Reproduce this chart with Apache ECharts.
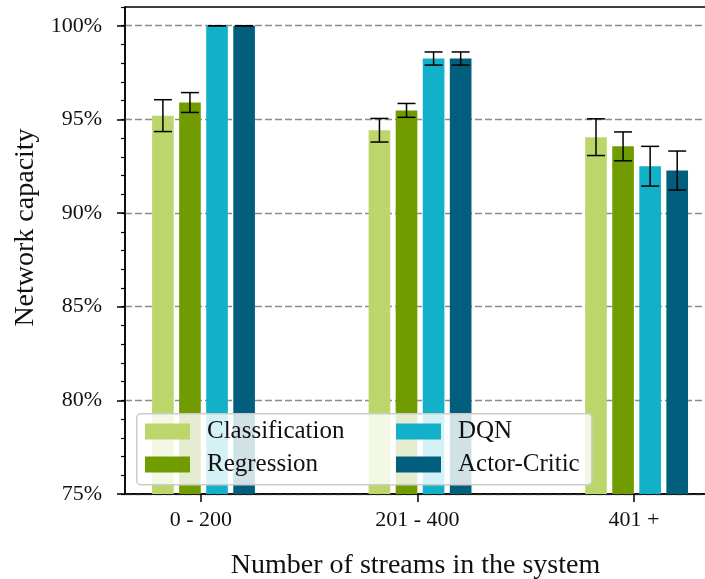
<!DOCTYPE html>
<html>
<head>
<meta charset="utf-8">
<script src="https://cdn.jsdelivr.net/npm/echarts@6/dist/echarts.min.js"></script>
<style>
  html, body { margin: 0; padding: 0; background: #fff; }
  #chart { width: 705px; height: 579px; }
</style>
</head>
<body>
<div id="chart"></div>
<script>
// Stream-count buckets on the x axis
const categories = ['0 - 200', '201 - 400', '401 +'];
const categoryPositions = [0, 1, 2];

// Mean network capacity (%) and error half-widths per method
const classification = [95.2, 94.42, 94.05];
const classificationErr = [0.85, 0.63, 0.98];
const regression = [95.9, 95.48, 93.56];
const regressionErr = [0.53, 0.37, 0.77];
const dqn = [100, 98.25, 92.5];
const dqnErr = [0, 0.35, 1.06];
const actorCritic = [100, 98.25, 92.27];
const actorCriticErr = [0, 0.35, 1.04];

// Y-axis tick values
const yMajorTicks = [75, 80, 85, 90, 95, 100];

const FONT = '"Liberation Serif", "DejaVu Serif", serif';
const Y_MIN = 75, Y_MAX = 101;
const BAR_W = 0.1;

const methods = [
  { name: 'Classification', values: classification, err: classificationErr, color: '#bdd66b', offset: -0.175 },
  { name: 'Regression', values: regression, err: regressionErr, color: '#719c00', offset: -0.05 },
  { name: 'DQN', values: dqn, err: dqnErr, color: '#12b1c9', offset: 0.075 },
  { name: 'Actor-Critic', values: actorCritic, err: actorCriticErr, color: '#015f7d', offset: 0.2 }
];

function makeSeries(m) {
  return {
    type: 'custom',
    name: m.name,
    itemStyle: { color: m.color },
    data: categoryPositions.map((x, i) => [x, m.values[i], m.err[i]]),
    renderItem: function (params, api) {
      const xc = api.value(0) + m.offset;
      const v = api.value(1);
      const e = api.value(2);
      const tl = api.coord([xc - BAR_W / 2, v]);
      const br = api.coord([xc + BAR_W / 2, Y_MIN]);
      const top = api.coord([xc, v + e]);
      const bot = api.coord([xc, v - e]);
      const cap = 9;
      const lineStyle = { stroke: '#000', lineWidth: 1.5 };
      return {
        type: 'group',
        children: [
          { type: 'rect', shape: { x: tl[0], y: tl[1], width: br[0] - tl[0], height: br[1] - tl[1] }, style: { fill: m.color } },
          { type: 'line', shape: { x1: top[0], y1: top[1], x2: bot[0], y2: bot[1] }, style: lineStyle },
          { type: 'line', shape: { x1: top[0] - cap, y1: top[1], x2: top[0] + cap, y2: top[1] }, style: lineStyle },
          { type: 'line', shape: { x1: bot[0] - cap, y1: bot[1], x2: bot[0] + cap, y2: bot[1] }, style: lineStyle }
        ]
      };
    }
  };
}

const legendText = { fontFamily: FONT, fontSize: 25, color: '#111', padding: [0, 0, 0, 12] };

const chart = echarts.init(document.getElementById('chart'), null, { renderer: 'canvas' });
chart.setOption({
  backgroundColor: '#fff',
  animation: false,
  grid: {
    left: 125, top: 7, right: -1, bottom: 85,
    outerBoundsMode: 'none', containLabel: false,
    show: true, borderColor: '#000', borderWidth: 1.5, backgroundColor: 'transparent'
  },
  xAxis: {
    type: 'value',
    min: -0.35,
    max: 2.333,
    name: 'Number of streams in the system',
    nameLocation: 'middle',
    nameGap: 58,
    nameTextStyle: { fontFamily: FONT, fontSize: 28, color: '#111' },
    axisLine: { show: true, onZero: false, lineStyle: { color: '#000', width: 1.5 } },
    axisTick: { show: true, customValues: categoryPositions, length: 8, lineStyle: { color: '#000', width: 1.5 } },
    axisLabel: {
      customValues: categoryPositions,
      formatter: v => categories[Math.round(v)],
      fontFamily: FONT, fontSize: 22, color: '#111', margin: 15
    },
    splitLine: { show: false }
  },
  yAxis: [
    {
      type: 'value',
      min: Y_MIN,
      max: Y_MAX,
      interval: 5,
      name: 'Network capacity',
      nameLocation: 'middle',
      nameGap: 85,
      nameTextStyle: { fontFamily: FONT, fontSize: 28, color: '#111', padding: [0, 0, 0, 46] },
      axisLine: { show: true, onZero: false, lineStyle: { color: '#000', width: 1.5 } },
      axisTick: { show: true, customValues: yMajorTicks, length: 8, lineStyle: { color: '#000', width: 1.5 } },
      axisLabel: {
        customValues: yMajorTicks,
        formatter: v => v + '%',
        fontFamily: FONT, fontSize: 22, color: '#111', margin: 23
      },
      splitLine: { show: true, lineStyle: { color: '#8c8c8c', width: 1.3, type: [7, 3] } }
    },
    {
      // minor ticks every 1%
      type: 'value',
      min: Y_MIN,
      max: Y_MAX,
      interval: 1,
      position: 'left',
      axisLine: { show: false, onZero: false },
      axisTick: { show: true, length: 4, lineStyle: { color: '#000', width: 1.2 } },
      axisLabel: { show: false },
      splitLine: { show: false }
    }
  ],
  legend: [
    {
      data: [{ name: 'Classification', icon: 'rect' }, { name: 'Regression', icon: 'rect' }],
      orient: 'vertical', left: 145, top: 419, padding: 0,
      itemWidth: 45, itemHeight: 16, itemGap: 8, selectedMode: false,
      textStyle: legendText
    },
    {
      data: [{ name: 'DQN', icon: 'rect' }, { name: 'Actor-Critic', icon: 'rect' }],
      orient: 'vertical', left: 396, top: 419, padding: 0,
      itemWidth: 45, itemHeight: 16, itemGap: 8, selectedMode: false,
      textStyle: legendText
    }
  ],
  graphic: [
    {
      type: 'rect', left: 136, top: 413, z: 3,
      shape: { width: 455, height: 71, r: 4 },
      style: { fill: 'rgba(255,255,255,0.82)', stroke: '#cccccc', lineWidth: 1.5 }
    }
  ],
  series: methods.map(makeSeries)
});
</script>
</body>
</html>
